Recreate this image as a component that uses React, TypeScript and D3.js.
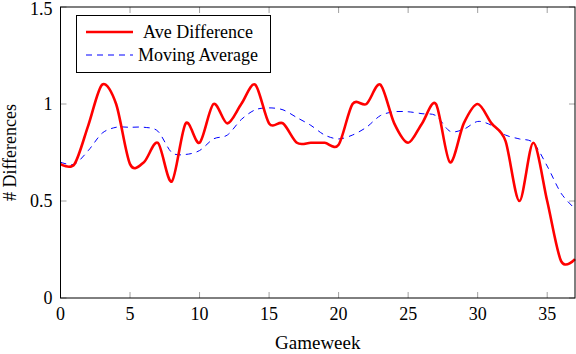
import * as d3 from "d3";
import React, { useEffect, useRef } from "react";

const width = 576;
const height = 354;
const marginTop = 7;
const marginBottom = 56;
const marginLeft = 60.5;
const marginRight = 1;
const font = "'Liberation Serif', 'DejaVu Serif', serif";

const gameweeks = d3.range(0, 38);
const aveDifference = [
  0.69, 0.69, 0.89, 1.1, 1.0, 0.69, 0.7, 0.8, 0.6, 0.9, 0.8, 1.0, 0.9, 1.0,
  1.1, 0.9, 0.9, 0.8, 0.8, 0.8, 0.79, 1.0, 1.0, 1.1, 0.9, 0.8, 0.9, 1.0, 0.7,
  0.9, 1.0, 0.9, 0.81, 0.5, 0.8, 0.5, 0.19, 0.2,
];
const movingAverage = [
  0.7, 0.69, 0.76, 0.85, 0.88, 0.88, 0.88, 0.86, 0.75, 0.74, 0.76, 0.82, 0.84,
  0.92, 0.97, 0.98, 0.97, 0.93, 0.89, 0.84, 0.82, 0.84, 0.88, 0.94, 0.96, 0.96,
  0.95, 0.94, 0.86, 0.87, 0.91, 0.89, 0.84, 0.82, 0.8, 0.68, 0.54, 0.46,
];
const xTicks = [0, 5, 10, 15, 20, 25, 30, 35];
const yTicks = [0, 0.5, 1, 1.5];
const legendLabels = ["Ave Difference", "Moving Average"];

const App = () => {
  const svgRef = useRef(null);
  useEffect(() => {
    const svg = d3.select(svgRef.current);
    svg.selectAll("*").remove();

    const x = d3
      .scaleLinear()
      .domain([0, 37])
      .range([marginLeft, width - marginRight]);
    const y = d3
      .scaleLinear()
      .domain([0, 1.5])
      .range([height - marginBottom, marginTop]);

    const x0 = x.range()[0];
    const x1 = x.range()[1];
    const y0 = y.range()[0];
    const y1 = y.range()[1];

    // tick marks inside on all four sides
    const ticks = svg.append("g").attr("stroke", "#a0a0a0").attr("stroke-width", 1);
    xTicks.forEach((t) => {
      ticks.append("line").attr("x1", x(t)).attr("x2", x(t)).attr("y1", y0).attr("y2", y0 - 6);
      ticks.append("line").attr("x1", x(t)).attr("x2", x(t)).attr("y1", y1).attr("y2", y1 + 6);
    });
    yTicks.forEach((t) => {
      ticks.append("line").attr("x1", x0).attr("x2", x0 + 6).attr("y1", y(t)).attr("y2", y(t));
      ticks.append("line").attr("x1", x1).attr("x2", x1 - 6).attr("y1", y(t)).attr("y2", y(t));
    });

    const smoothLine = d3
      .line<number>()
      .x((d, i) => x(gameweeks[i]))
      .y((d) => y(d))
      .curve(d3.curveCardinal.tension(0.1));

    svg
      .append("path")
      .datum(movingAverage)
      .attr("fill", "none")
      .attr("stroke", "#0000ff")
      .attr("stroke-width", 1)
      .attr("stroke-dasharray", "6,5")
      .attr("d", smoothLine);

    svg
      .append("path")
      .datum(aveDifference)
      .attr("fill", "none")
      .attr("stroke", "#ff0000")
      .attr("stroke-width", 2.6)
      .attr("stroke-linejoin", "round")
      .attr("d", smoothLine);

    // frame
    svg
      .append("rect")
      .attr("x", x0)
      .attr("y", y1)
      .attr("width", x1 - x0)
      .attr("height", y0 - y1)
      .attr("fill", "none")
      .attr("stroke", "#000")
      .attr("stroke-width", 1);

    // tick labels
    svg
      .append("g")
      .selectAll("text")
      .data(xTicks)
      .join("text")
      .attr("x", (d) => x(d))
      .attr("y", y0 + 22)
      .attr("text-anchor", "middle")
      .attr("font-family", font)
      .attr("font-size", 18)
      .text((d) => d);

    svg
      .append("g")
      .selectAll("text")
      .data(yTicks)
      .join("text")
      .attr("x", x0 - 8)
      .attr("y", (d) => Math.max(y(d) + 6, 15))
      .attr("text-anchor", "end")
      .attr("font-family", font)
      .attr("font-size", 18)
      .text((d) => d);

    svg
      .append("text")
      .attr("x", (x0 + x1) / 2)
      .attr("y", 349)
      .attr("text-anchor", "middle")
      .attr("font-family", font)
      .attr("font-size", 19)
      .text("Gameweek");

    svg
      .append("text")
      .attr("transform", `translate(16,${(y0 + y1) / 2}) rotate(-90)`)
      .attr("text-anchor", "middle")
      .attr("font-family", font)
      .attr("font-size", 18)
      .text("# Differences");

    // legend
    const legend = svg.append("g");
    legend
      .append("rect")
      .attr("x", 76.5)
      .attr("y", 15.5)
      .attr("width", 194)
      .attr("height", 57)
      .attr("fill", "#fff")
      .attr("stroke", "#000")
      .attr("stroke-width", 1);
    const styles = [
      { color: "#ff0000", w: 2.6, dash: null },
      { color: "#0000ff", w: 1, dash: "6,5" },
    ];
    legendLabels.forEach((label, i) => {
      const cy = 32 + i * 23;
      legend
        .append("line")
        .attr("x1", 86)
        .attr("x2", 133)
        .attr("y1", cy)
        .attr("y2", cy)
        .attr("stroke", styles[i].color)
        .attr("stroke-width", styles[i].w)
        .attr("stroke-dasharray", styles[i].dash);
      legend
        .append("text")
        .attr("x", 198)
        .attr("y", cy + 6)
        .attr("text-anchor", "middle")
        .attr("font-family", font)
        .attr("font-size", 18)
        .text(label);
    });
  }, []);

  return (
    <svg
      ref={svgRef}
      width={width}
      height={height}
      style={{ position: "absolute", left: 0, top: 0, background: "#fff" }}
    />
  );
};

export default App;
